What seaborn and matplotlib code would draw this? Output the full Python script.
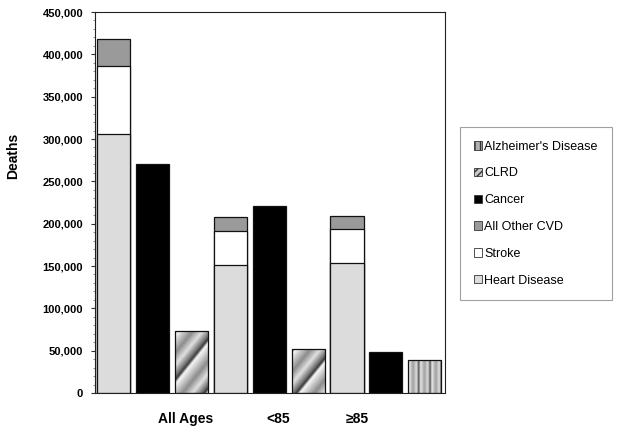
import numpy as np
import pandas as pd
import matplotlib
matplotlib.use("Agg")
import matplotlib.pyplot as plt
from matplotlib.patches import Patch
from matplotlib.ticker import MultipleLocator, FuncFormatter
import seaborn as sns

# ---------------- data ----------------
groups = ["All Ages", "<85", "≥85"]
heart_disease = [305600, 150800, 153900]
stroke = [80600, 40500, 39400]
other_cvd = [31800, 16900, 16100]
cancer = [270000, 221000, 48500]
third_cause = ["CLRD", "CLRD", "Alzheimer's Disease"]
third_values = [73500, 51500, 38500]
ytick_values = [0, 50000, 100000, 150000, 200000, 250000, 300000, 350000, 400000, 450000]
legend_labels = ["Alzheimer's Disease", "CLRD", "Cancer", "All Other CVD", "Stroke", "Heart Disease"]

# ---------------- style ----------------
sns.set_style("white")
plt.rcParams["font.family"] = ["Liberation Sans", "DejaVu Sans"]
plt.rcParams["text.color"] = "black"
plt.rcParams["axes.labelcolor"] = "black"
plt.rcParams["xtick.color"] = "black"
plt.rcParams["ytick.color"] = "black"

# slot names: 3 bars per group
slot_order = []
for g in groups:
    slot_order += [f"{g}|CVD", f"{g}|Cancer", f"{g}|Third"]

cvd_total = [h + s + o for h, s, o in zip(heart_disease, stroke, other_cvd)]
heart_stroke = [h + s for h, s in zip(heart_disease, stroke)]

df_total = pd.DataFrame({"slot": [f"{g}|CVD" for g in groups], "value": cvd_total})
df_hs = pd.DataFrame({"slot": [f"{g}|CVD" for g in groups], "value": heart_stroke})
df_h = pd.DataFrame({"slot": [f"{g}|CVD" for g in groups], "value": heart_disease})
df_c = pd.DataFrame({"slot": [f"{g}|Cancer" for g in groups], "value": cancer})
df_t = pd.DataFrame({"slot": [f"{g}|Third" for g in groups], "value": third_values,
                     "cause": third_cause})

fig = plt.figure(figsize=(6.24, 4.36), dpi=100)
ax = fig.add_axes([95 / 624, (436 - 393) / 436, 350 / 624, 381 / 436])

W = 0.85
common = dict(x="slot", y="value", order=slot_order, width=W, saturation=1,
              edgecolor="#111111", linewidth=0.9, ax=ax, errorbar=None)
sns.barplot(data=df_total, color="#9a9a9a", **common)
sns.barplot(data=df_hs, color="#ffffff", **common)
sns.barplot(data=df_h, color="#dcdcdc", **common)
sns.barplot(data=df_c, color="#000000", **common)
n_before = len(ax.patches)
sns.barplot(data=df_t, color="#ffffff", **common)
third_patches = [p for p in ax.patches[n_before:] if p.get_height() > 0]

ax.set_xlim(-0.48, 8.52)
ax.set_ylim(0, 450000)


def pattern(kind, wpx, hpx):
    yy, xx = np.mgrid[0:hpx, 0:wpx].astype(float)
    if kind == "diag":
        u = 0.78 * xx + 0.62 * yy
        period = 30.0
        tp = [0, 0.08, 0.45, 0.7, 0.92, 1.0]
        vp = [0.22, 0.97, 0.55, 0.88, 0.45, 0.22]
    else:
        u = xx + 1.0
        period = 11.0
        tp = [0, 0.15, 0.5, 0.8, 1.0]
        vp = [0.35, 0.92, 0.62, 0.88, 0.35]
    t = (u / period) % 1.0
    return np.interp(t, tp, vp)


for p, cause in zip(sorted(third_patches, key=lambda q: q.get_x()), third_cause):
    x0, y0 = p.get_x(), p.get_y()
    x1, y1 = x0 + p.get_width(), y0 + p.get_height()
    (px0, py0), (px1, py1) = ax.transData.transform([(x0, y0), (x1, y1)])
    wpx = max(int(round(abs(px1 - px0))), 2)
    hpx = max(int(round(abs(py1 - py0))), 2)
    img = pattern("diag" if cause == "CLRD" else "vert", wpx, hpx)
    im = ax.imshow(img, cmap="gray", vmin=0, vmax=1, extent=(x0, x1, y0, y1),
                   origin="upper", aspect="auto", interpolation="bilinear", zorder=2)
    im.set_clip_path(p)
    p.set_facecolor("none")
    p.set_zorder(3)

ax.set_xlim(-0.48, 8.52)
ax.set_ylim(0, 450000)

# y axis
ax.set_yticks(ytick_values)
ax.yaxis.set_major_formatter(FuncFormatter(lambda v, _: f"{int(v):,}"))
ax.yaxis.set_minor_locator(MultipleLocator(10000))
ax.tick_params(axis="y", which="major", direction="out", length=3, width=0.8,
               labelsize=8, pad=5.6, left=True, color="#333333", labelcolor="black")
ax.tick_params(axis="y", which="minor", direction="out", length=1.5, width=0.6,
               left=True, color="#777777")
for lbl in ax.get_yticklabels():
    lbl.set_fontweight("bold")

# x axis category labels
ax.set_xticks([1.86, 4.23, 6.26])
ax.set_xticklabels(groups, fontsize=10, fontweight="bold")
ax.tick_params(axis="x", length=0, pad=14, labelcolor="black")
ax.set_xlabel("")

ax.set_ylabel("Deaths", fontsize=10, fontweight="bold", color="black")
ax.yaxis.set_label_coords(-0.214, 0.622)

for sp in ax.spines.values():
    sp.set_visible(True)
    sp.set_color("#222222")
    sp.set_linewidth(0.8)

# legend
styles = {
    "Alzheimer's Disease": dict(facecolor="#b0b0b0", hatch="|||"),
    "CLRD": dict(facecolor="#c8c8c8", hatch="/////"),
    "Cancer": dict(facecolor="#000000"),
    "All Other CVD": dict(facecolor="#9a9a9a"),
    "Stroke": dict(facecolor="#ffffff"),
    "Heart Disease": dict(facecolor="#dcdcdc"),
}
handles = [Patch(edgecolor="#333333", linewidth=0.6, **styles[l]) for l in legend_labels]
leg = fig.legend(handles, legend_labels, loc="upper left",
                 bbox_to_anchor=(460 / 624, (436 - 127) / 436),
                 fontsize=9, frameon=True, fancybox=False, shadow=False,
                 handlelength=0.65, handleheight=0.65, handletextpad=0.2,
                 labelspacing=1.18, borderpad=1.1, borderaxespad=0.0,
                 labelcolor="black")
leg.get_frame().set_edgecolor("#8a8a8a")
leg.get_frame().set_linewidth(0.8)

fig.savefig("out.png", dpi=100)
